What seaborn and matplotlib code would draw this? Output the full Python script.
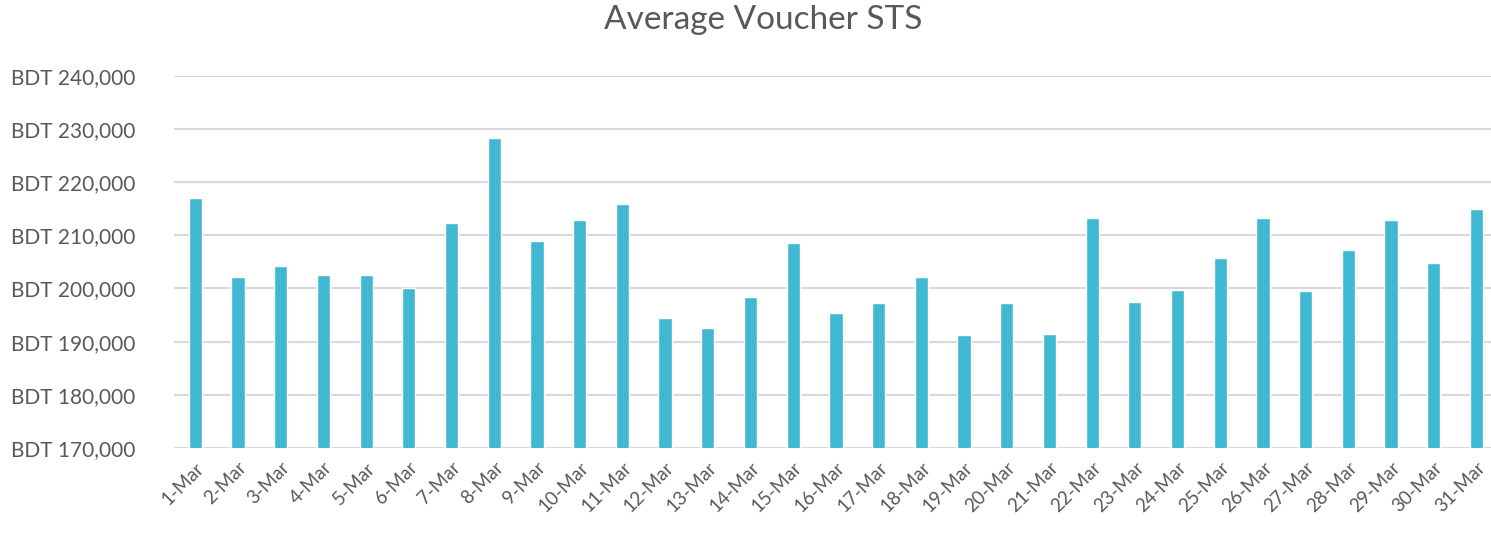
import pandas as pd
import matplotlib
matplotlib.use("Agg")
import matplotlib.pyplot as plt
import seaborn as sns
from matplotlib.ticker import FuncFormatter

# === DATA ===
days = [f"{d}-Mar" for d in range(1, 32)]
avg_sts = [
    217000, 202100, 204300, 202500, 202600, 200000, 212300, 228300,
    208900, 212900, 215900, 194400, 192500, 198400, 208500, 195400,
    197200, 202100, 191300, 197200, 191500, 213300, 197400, 199700,
    205800, 213150, 199500, 207300, 212800, 204800, 215000,
]

BAR_COLOR = "#40B8D2"
TEXT_COLOR = "#595959"
GRID_COLOR = "#D9D9D9"

df = pd.DataFrame({"Day": days, "STS": avg_sts})

# === CHART ===
sns.set_theme(style="white")
plt.rcParams["font.family"] = ["Lato", "DejaVu Sans"]

fig = plt.figure(figsize=(14.91, 5.33), dpi=100)
ax = fig.add_axes([0.1167, 0.1595, 0.8833, 0.6985])

sns.barplot(data=df, x="Day", y="STS", color=BAR_COLOR, saturation=1,
            width=0.31, ax=ax, zorder=3)

ax.set_ylim(170000, 240000)
ax.set_yticks(range(170000, 240001, 10000))
ax.yaxis.set_major_formatter(FuncFormatter(lambda v, p: f"BDT {int(v):,}"))
ax.set_xlim(-0.5, 30.34)

ax.grid(axis="y", color=GRID_COLOR, linewidth=1.5, zorder=0)
ax.set_axisbelow(True)
for s in ax.spines.values():
    s.set_visible(False)

ax.tick_params(axis="y", length=0, labelsize=15, labelcolor=TEXT_COLOR, pad=28)
ax.tick_params(axis="x", length=0, labelsize=13.5, labelcolor=TEXT_COLOR, pad=8)
plt.setp(ax.get_xticklabels(), rotation=45, ha="right", rotation_mode="anchor")
ax.set_xlabel("")
ax.set_ylabel("")

fig.suptitle("Average Voucher STS", x=0.512, y=0.99, fontsize=24, color=TEXT_COLOR)

plt.savefig("out.png", dpi=100)
plt.close()
